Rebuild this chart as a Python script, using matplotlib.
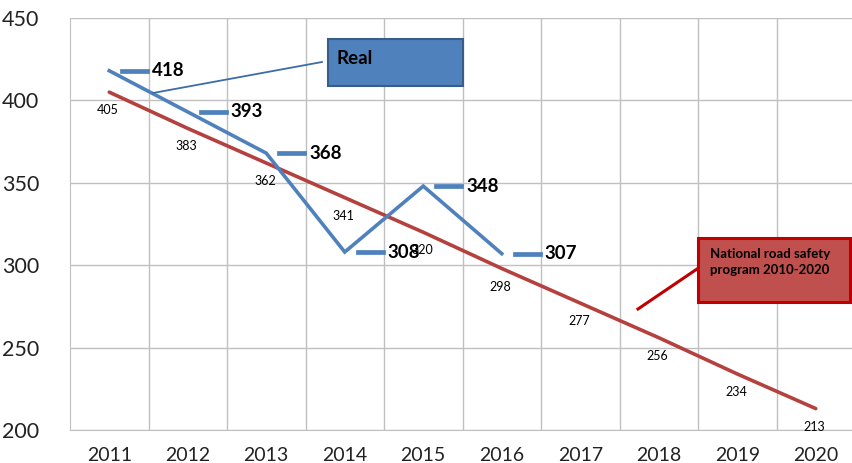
import matplotlib
matplotlib.use("Agg")
import matplotlib.pyplot as plt
from matplotlib.patches import Rectangle
from matplotlib.lines import Line2D

#---------- Data
years = ['2011', '2012', '2013', '2014', '2015', '2016', '2017', '2018', '2019', '2020']
real = [418, 393, 368, 308, 348, 307]
program = [405, 383, 362, 341, 320, 298, 277, 256, 234, 213]
y_ticks = [200, 250, 300, 350, 400, 450]

blue = '#4F81BD'
red = '#B5413E'

plt.rcParams['font.family'] = ['Lato', 'DejaVu Sans']

W, H = 852, 463
fig = plt.figure(figsize=(W / 100, H / 100), dpi=100)
ax = fig.add_axes([70 / W, 33 / H, 785 / W, 412 / H])

x_all = list(range(len(years)))
x_real = x_all[:len(real)]

#---------- Lines
ax.plot(x_all, program, color=red, lw=2.6, solid_capstyle='round', zorder=3)
ax.plot(x_real, real, color=blue, lw=2.6, solid_joinstyle='miter', zorder=4)

#---------- Labels of the real values (legend-key dash + bold number)
for x, v in zip(x_real, real):
    ax.plot([x + 0.166, x + 0.484], [v, v], color=blue, lw=3.4, zorder=4)
    ax.text(x + 0.55, v, str(v), fontsize=13.5, fontweight='bold', color='black',
            ha='left', va='center', zorder=6)

#---------- Labels of the program values
for x, v in zip(x_all, program):
    ax.annotate(str(v), (x, v), xytext=(-1, -13), textcoords='offset points',
                ha='center', va='center', fontsize=9, color='black', zorder=6)

#---------- Axes styling
ax.set_xlim(-0.5, len(years) - 0.5)
ax.set_ylim(200, 450)
ax.set_yticks(y_ticks)
ax.set_xticks(x_all)
ax.set_xticklabels(years)
ax.set_xticks([i + 0.5 for i in x_all], minor=True)
ax.grid(True, which='major', axis='y', color='#C0C0C0', lw=1)
ax.grid(True, which='minor', axis='x', color='#C0C0C0', lw=1)
ax.tick_params(which='both', length=0)
ax.tick_params(axis='y', labelsize=15.5, pad=22, colors='#222222')
ax.tick_params(axis='x', labelsize=14, pad=12, colors='#222222')
for s in ['top', 'right']:
    ax.spines[s].set_visible(False)
for s in ['left', 'bottom']:
    ax.spines[s].set_color('#C0C0C0')
ax.set_axisbelow(True)

#---------- Callout boxes (figure pixel coords)
def px(x, y):
    return x / W, (H - y) / H

fig.add_artist(Rectangle(px(328, 86), 135 / W, 47 / H, transform=fig.transFigure,
                         facecolor=blue, edgecolor='#385D8A', lw=1.5, zorder=10))
fig.text(*px(337, 59), 'Real', fontsize=13.5, fontweight='bold', ha='left', va='center',
         zorder=11)
(x0, y0), (x1, y1) = px(322, 62), px(153, 93)
fig.add_artist(Line2D([x0, x1], [y0, y1], transform=fig.transFigure, color='#3C6DA6',
                      lw=1.3, zorder=10))

fig.add_artist(Rectangle(px(698, 302), 152 / W, 64 / H, transform=fig.transFigure,
                         facecolor='#C0504D', edgecolor='#C00000', lw=2.2, zorder=10))
fig.text(*px(710, 262), 'National road safety\nprogram 2010-2020', fontsize=9.5,
         fontweight='bold', ha='left', va='center', linespacing=1.35, zorder=11)
(x0, y0), (x1, y1) = px(697, 269), px(638, 309)
fig.add_artist(Line2D([x0, x1], [y0, y1], transform=fig.transFigure, color='#C00000',
                      lw=2.2, zorder=10))

fig.savefig('out.png', dpi=100)
